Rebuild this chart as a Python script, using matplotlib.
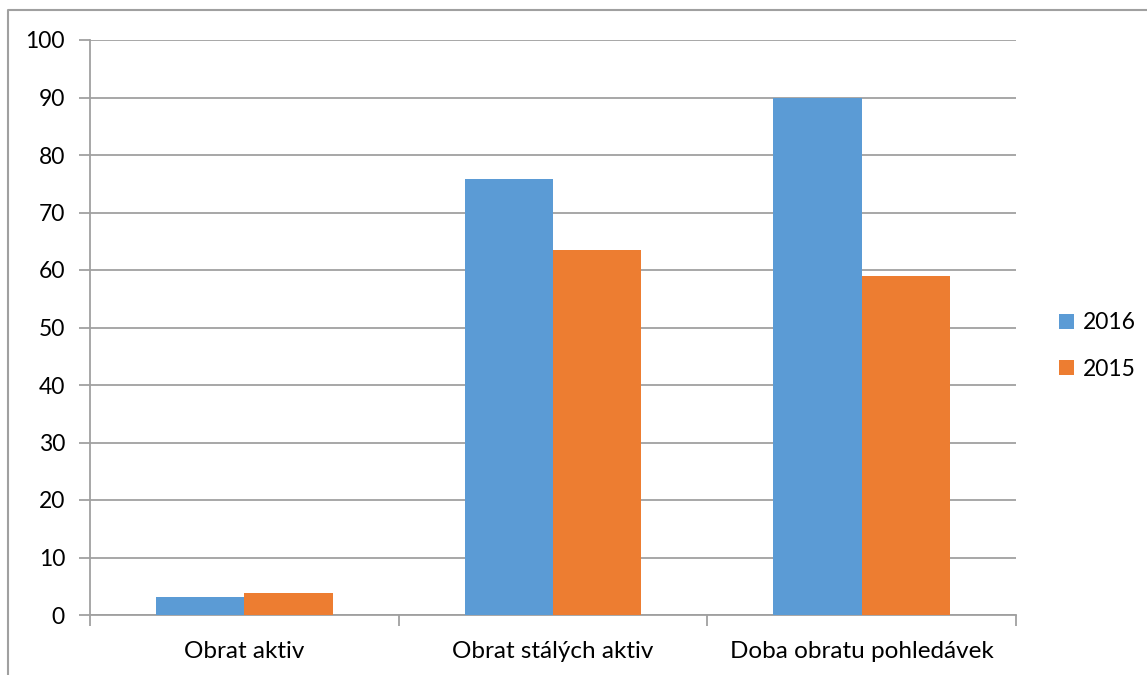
import matplotlib
matplotlib.use("Agg")
import matplotlib.pyplot as plt
from matplotlib.lines import Line2D
import numpy as np

categories = ["Obrat aktiv", "Obrat stálých aktiv", "Doba obratu pohledávek"]
series_names = ["2016", "2015"]
values_2016 = [3.1, 75.9, 90.0]
values_2015 = [3.8, 63.5, 59.0]
y_ticks = [0, 10, 20, 30, 40, 50, 60, 70, 80, 90, 100]

colors = ["#5B9BD5", "#ED7D31"]
grid_color = "#a0a0a0"

plt.rcParams["font.family"] = ["Lato", "DejaVu Sans"]

W, H = 1147, 675
fig = plt.figure(figsize=(W / 100, H / 100), dpi=100)
ax = fig.add_axes([90 / W, 1 - 615 / H, (1016 - 90) / W, (615 - 40) / H])

x = np.arange(len(categories))
bw = 1 / 3.5
ax.bar(x - bw / 2, values_2016, width=bw, color=colors[0], label=series_names[0], zorder=3)
ax.bar(x + bw / 2, values_2015, width=bw, color=colors[1], label=series_names[1], zorder=3)

ax.set_xlim(-0.5, len(categories) - 0.5)
ax.set_ylim(0, 100)
ax.set_yticks(y_ticks)
ax.yaxis.grid(True, color=grid_color, lw=1.3, zorder=0)

# category boundaries carry the tick marks; labels sit at the centres
ax.set_xticks(np.arange(len(categories) + 1) - 0.5)
ax.set_xticklabels([])
ax.set_xticks(x, minor=True)
ax.set_xticklabels(categories, minor=True)
ax.tick_params(axis="x", which="major", length=8, width=1.3, color=grid_color, direction="out")
ax.tick_params(axis="x", which="minor", length=0, pad=19, labelsize=17.5)
ax.tick_params(axis="y", length=8, width=1.3, color=grid_color, labelsize=16.5, pad=10)

for side in ["top", "right"]:
    ax.spines[side].set_visible(False)
for side in ["left", "bottom"]:
    ax.spines[side].set_color(grid_color)
    ax.spines[side].set_linewidth(1.3)

fig.legend(loc="center left", bbox_to_anchor=(1050 / W, 1 - 346 / H),
           frameon=False, fontsize=16.5, handlelength=0.65, handleheight=0.65,
           handletextpad=0.4, labelspacing=1.1, borderaxespad=0)

# chart frame
fig.add_artist(Line2D([8 / W, 8 / W, 1.0], [0.0, 1 - 10 / H, 1 - 10 / H],
                      transform=fig.transFigure, color=grid_color, lw=1.5))

fig.savefig("out.png", dpi=100, facecolor="white")
